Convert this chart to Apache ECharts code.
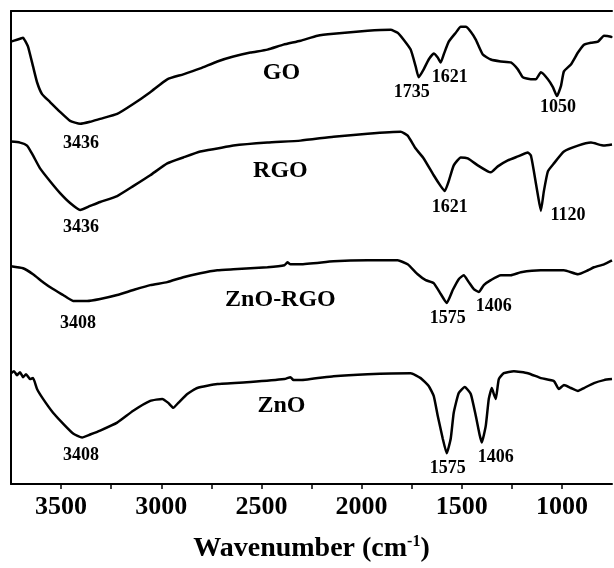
<!DOCTYPE html>
<html>
<head>
<meta charset="utf-8">
<script src="https://cdn.jsdelivr.net/npm/echarts@6/dist/echarts.min.js"></script>
<style>
  html, body { margin: 0; padding: 0; background: #fff; }
  #main { width: 614px; height: 568px; }
</style>
</head>
<body>
<div id="main"></div>
<script>
// FTIR spectra, [wavenumber, transmittance (a.u., stacked)]
var goData = [
  [3750,111.75],[3720,112.25],[3705,112.5],[3690,112.75],[3680,112],[3665,110.5],[3640,105.5],[3620,101.5],[3595,98.5],
  [3555,96.5],[3505,94],[3455,91.75],[3405,91],[3355,91.5],[3305,92.25],[3220,93.5],[3140,96],
  [3055,99],[2970,102.25],[2890,103.5],[2805,105],[2720,106.75],[2640,108],[2555,109],[2470,109.75],
  [2390,111],[2305,112],[2220,113.25],[2140,113.75],[1970,114.5],[1855,114.75],[1820,114],
  [1790,112.25],[1755,109.75],[1730,105.5],[1715,102.75],[1690,104.75],[1665,107.25],[1640,108.75],
  [1620,107.75],[1605,106.5],[1590,108.5],[1565,111.75],[1530,114],[1505,115.5],[1480,115.5],
  [1455,114.25],[1430,112.25],[1395,108.5],[1355,107.25],[1305,106.75],[1255,106.5],[1220,104.75],
  [1195,102.75],[1155,102.25],[1130,102.25],[1105,104],[1070,102.25],[1045,100.25],[1025,98],
  [1005,100.5],[990,104.25],[955,106],[920,109],[890,111],[855,111.5],[820,111.75],[790,113.25],
  [755,113],[750,112.75]
];
var rgoData = [
  [3750,86.5],[3705,86.25],[3670,85.5],[3640,83],[3605,79.75],[3555,76.5],[3505,73.5],[3455,71],
  [3405,69.25],[3355,70.25],[3305,71.25],[3220,72.75],[3140,75.25],[3055,78],[2970,81],[2890,82.5],
  [2805,84],[2720,84.75],[2640,85.5],[2470,86.25],[2305,86.75],[2140,87.75],[1970,88.5],[1805,89],
  [1770,88],[1730,84.75],[1690,82.25],[1640,78],[1605,75.25],[1585,74],[1565,76.5],[1540,80.5],
  [1505,82.5],[1470,82.25],[1420,80.5],[1370,79],[1355,78.75],[1320,80.25],[1270,81.75],[1220,82.75],
  [1170,83.75],[1155,83],[1140,79],[1120,73],[1105,69],[1090,74],[1070,79],[1040,81],[990,84],
  [920,85.5],[855,86.25],[790,85.5],[750,85.75]
];
var znoRgoData = [
  [3750,55],[3690,54.5],[3640,53],[3590,51],[3540,49.25],[3490,47.75],[3440,46.25],[3370,46.25],
  [3305,46.75],[3220,47.75],[3140,49],[3055,50.25],[2970,51],[2890,52.25],[2805,53.25],[2720,54],
  [2640,54.25],[2470,54.75],[2385,55.25],[2370,56],[2355,55.5],[2305,55.5],[2140,56.25],[1970,56.5],
  [1820,56.5],[1770,55.5],[1720,53],[1680,51.5],[1640,50.75],[1605,48],[1575,45.75],[1545,49],
  [1515,51.75],[1490,52.75],[1465,51],[1440,49.25],[1415,48.5],[1390,50.25],[1355,51.5],[1305,52.75],
  [1255,52.75],[1205,53.5],[1105,54],[990,54],[920,53],[870,54],[840,54.75],[790,55.5],[750,56.5]
];
var znoData = [
  [3750,28],[3735,28.5],[3720,27.5],[3705,28.25],[3690,27],[3675,27.75],[3655,26.5],[3640,26.75],[3620,24],[3590,21.5],[3540,18],[3490,15.25],[3440,12.75],
  [3395,11.75],[3355,12.5],[3305,13.5],[3220,15.5],[3140,18.5],[3055,21],[2995,21.5],[2965,20.5],
  [2940,19.25],[2915,20.5],[2870,22.75],[2820,24.25],[2720,25.25],[2555,25.75],[2385,26.5],[2355,27],
  [2340,26.25],[2305,26.25],[2140,27.25],[1970,27.75],[1755,28],[1705,26.75],[1665,24.75],[1640,22.25],
  [1620,17.25],[1595,11.5],[1575,7.75],[1555,11.5],[1540,18],[1515,23],[1485,24.5],[1455,22.75],
  [1430,17.25],[1410,12.25],[1400,10.5],[1380,14.75],[1365,21.5],[1350,24.25],[1340,22.75],[1330,21.5],
  [1315,26.5],[1290,28],[1240,28.5],[1170,28],[1105,26.75],[1040,26],[1015,24],[990,25],[955,24.25],
  [920,23.5],[890,24.25],[840,25.5],[790,26.25],[750,26.5]
];
// peak annotations [wavenumber, y, text]
var peakLabels = [
  [3400,86,'3436'],[1750,99,'1735'],[1560,102.75,'1621'],[1020,95.25,'1050'],
  [3400,64.75,'3436'],[1560,70,'1621'],[970,68,'1120'],
  [3415,40.5,'3408'],[1570,41.75,'1575'],[1340,45,'1406'],
  [3400,7.25,'3408'],[1570,4,'1575'],[1330,6.75,'1406']
];
var sampleNames = [
  [2400,104,'GO'],[2405,79.25,'RGO'],[2405,46.5,'ZnO-RGO'],[2400,19.75,'ZnO']
];
var xTickLabels = [3500, 3000, 2500, 2000, 1500, 1000];

var font = '"Liberation Serif", "Times New Roman", serif';
var myChart = echarts.init(document.getElementById('main'));

function spectrum(data) {
  return {
    type: 'line',
    data: data,
    showSymbol: false,
    smooth: 0.15,
    silent: true,
    lineStyle: { color: '#000', width: 2.5 }
  };
}
function textSeries(data, size) {
  return {
    type: 'scatter',
    data: data,
    symbolSize: 1,
    silent: true,
    itemStyle: { color: 'transparent' },
    label: {
      show: true,
      position: 'inside',
      formatter: function (p) { return p.value[2]; },
      color: '#000',
      opacity: 1,
      textBorderWidth: 0,
      fontFamily: font,
      fontWeight: 'bold',
      fontSize: size
    }
  };
}

myChart.setOption({
  backgroundColor: '#fff',
  animation: false,
  grid: { left: 11, right: 2, top: 11, bottom: 79 },
  xAxis: [{
    type: 'value',
    inverse: true,
    min: 750,
    max: 3750,
    interval: 250,
    axisLine: { show: true, lineStyle: { color: '#000', width: 2 } },
    axisTick: { show: true, inside: false, length: 5, lineStyle: { color: '#000', width: 1.5 } },
    axisLabel: {
      margin: 10,
      color: '#000',
      fontFamily: font,
      fontWeight: 'bold',
      fontSize: 26,
      showMinLabel: false,
      showMaxLabel: false,
      formatter: function (v) { return xTickLabels.indexOf(v) >= 0 ? String(v) : ''; }
    },
    splitLine: { show: false },
    name: 'Wavenumber (cm{sup|-1})',
    nameLocation: 'middle',
    nameGap: 50,
    nameTextStyle: {
      color: '#000',
      fontFamily: font,
      fontWeight: 'bold',
      fontSize: 28,
      rich: {
        sup: { fontFamily: font, fontWeight: 'bold', fontSize: 16, color: '#000', verticalAlign: 'top', padding: [0, 0, 14, 0] }
      }
    }
  }, {
    type: 'value',
    position: 'top',
    inverse: true,
    min: 750,
    max: 3750,
    axisLine: { show: true, onZero: false, lineStyle: { color: '#000', width: 2 } },
    axisTick: { show: false },
    axisLabel: { show: false },
    splitLine: { show: false }
  }],
  yAxis: {
    type: 'value',
    min: 0,
    max: 119.5,
    axisLine: { show: true, lineStyle: { color: '#000', width: 2 } },
    axisTick: { show: false },
    axisLabel: { show: false },
    splitLine: { show: false }
  },
  series: [
    spectrum(goData),
    spectrum(rgoData),
    spectrum(znoRgoData),
    spectrum(znoData),
    textSeries(peakLabels, 18),
    textSeries(sampleNames, 24)
  ]
});
</script>
</body>
</html>
